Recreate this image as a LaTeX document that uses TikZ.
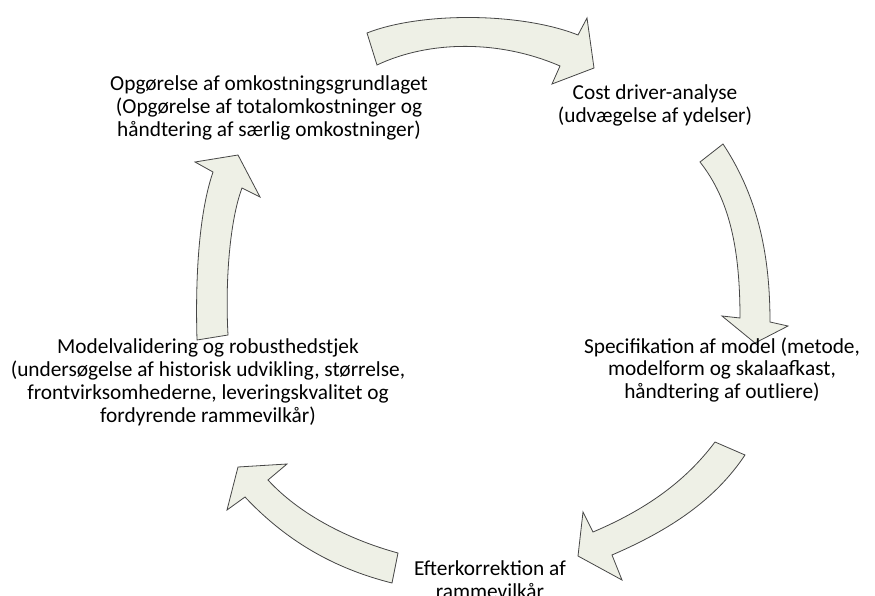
\documentclass[tikz,border=0pt]{standalone}
\usepackage{fontspec}
\setmainfont{Carlito}
\definecolor{arrowfill}{RGB}{238,240,230}
\definecolor{arrowline}{RGB}{70,70,70}
\tikzset{
  cyclearrow/.style={fill=arrowfill, draw=arrowline, line width=0.6pt, line join=miter},
  label/.style={align=center, font=\fontsize{16}{17.2}\selectfont, inner sep=0pt, text=black}
}
\begin{document}
\begin{tikzpicture}[x=0.75pt,y=-0.75pt]
\path[use as bounding box, fill=white] (0,0) rectangle (875,596);
% top arrow
\draw[cyclearrow] (367,33) .. controls (420,12) and (520,12) .. (578,35) -- (587,18) -- (594,68) -- (552,84) -- (560,66) .. controls (500,40) and (430,40) .. (377,65) -- cycle;
% right arrow
\draw[cyclearrow] (723,144) .. controls (760,200) and (770,260) .. (770,322) -- (788,326) -- (755,343) -- (722,316) -- (740,318) .. controls (740,250) and (730,200) .. (700,162) -- cycle;
% bottom-right arrow
\draw[cyclearrow] (715,442) .. controls (685,482) and (645,510) .. (593,532) -- (583,512) -- (578,556) -- (622,580) -- (612,555) .. controls (670,530) and (715,500) .. (745,455) -- cycle;
% bottom-left arrow
\draw[cyclearrow] (398,553) .. controls (350,540) and (300,515) .. (268,480) -- (287,464) -- (238,467) -- (227,510) -- (245,497) .. controls (290,545) and (340,570) .. (392,583) -- cycle;
% left arrow
\draw[cyclearrow] (197,340) .. controls (195,270) and (200,210) .. (213,172) -- (195,162) -- (238,155) -- (260,197) -- (242,188) .. controls (230,220) and (225,280) .. (228,335) -- cycle;
% texts
\node[label] (t1) at (269,108) {Opgørelse af omkostningsgrundlaget\\(Opgørelse af totalomkostninger og\\håndtering af særlig omkostninger)};
\node[label] (t2) at (655,105) {Cost driver-analyse\\(udvægelse af ydelser)};
\node[label] (t3) at (722,370) {Specifikation af model (metode,\\modelform og skalaafkast,\\håndtering af outliere)};
\node[label] (t4) at (490,580) {Efterkorrektion af\\rammevilkår};
\node[label] (t5) at (208,382) {Modelvalidering og robusthedstjek\\(undersøgelse af historisk udvikling, størrelse,\\frontvirksomhederne, leveringskvalitet og\\fordyrende rammevilkår)};
\end{tikzpicture}
\end{document}
